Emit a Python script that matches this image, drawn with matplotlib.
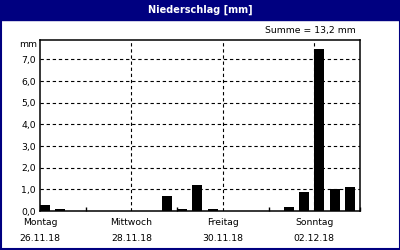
import matplotlib
matplotlib.use("Agg")
import matplotlib.pyplot as plt
from matplotlib.patches import Rectangle
import pandas as pd

# precipitation per 8-hour interval, starting Monday 26.11.18 00:00
start = "2018-11-26"
rain = [0.3, 0.1, 0.0, 0.0, 0.0, 0.0, 0.0, 0.0, 0.7, 0.1, 1.2,
        0.1, 0.0, 0.0, 0.0, 0.0, 0.2, 0.9, 7.5, 1.0, 1.1]
yticks = [0, 1, 2, 3, 4, 5, 6, 7]
days_de = ["Montag", "Dienstag", "Mittwoch", "Donnerstag", "Freitag", "Samstag", "Sonntag"]
title = "Niederschlag [mm]"
summe = "Summe = 13,2 mm"

times = pd.date_range(start, periods=len(rain), freq="8h")
navy = "#000080"

fig = plt.figure(figsize=(4, 2.5), dpi=100)
ax = fig.add_axes([40 / 400, 1 - 211 / 250, 320 / 400, 171 / 250])

ax.bar(times, rain, width=0.22, align="edge", color="black", zorder=3)

t0 = pd.Timestamp(start)
ax.set_xlim(t0, t0 + pd.Timedelta(days=7))
ax.set_ylim(0, 7.9)

ax.set_yticks(yticks)
ax.set_yticklabels([f"{v:.1f}".replace(".", ",") for v in yticks], fontsize=6.7)
ax.tick_params(axis="y", length=0, pad=3)

major = [t0 + pd.Timedelta(days=d) for d in (0, 2, 4, 6)]
minor = [t0 + pd.Timedelta(days=d) for d in (1, 3, 5, 7)]
ax.set_xticks(major)
ax.set_xticklabels([f"{days_de[t.weekday()]}\n{t:%d.%m.%y}" for t in major],
                   fontsize=6.7, linespacing=2.0)
ax.set_xticks(minor, minor=True)
ax.tick_params(axis="x", which="major", length=0, pad=5)
ax.tick_params(axis="x", which="minor", length=3, direction="in", width=1)

for y in yticks[1:]:
    ax.axhline(y, color="black", lw=0.8, ls=(0, (3, 2.5)), zorder=1)
for t in major[1:]:
    ax.axvline(t, color="black", lw=0.8, ls=(0, (3, 2.5)), zorder=1)

for s in ax.spines.values():
    s.set_linewidth(1.1)
    s.set_color("black")

fig.text(37 / 400, 1 - 45 / 250, "mm", ha="right", va="center", fontsize=6.7)
fig.text(356 / 400, 1 - 31 / 250, summe, ha="right", va="center", fontsize=6.7)

# title bar and frame
fig.patches.append(Rectangle((0, 1 - 20 / 250), 1, 20 / 250, transform=fig.transFigure,
                             color=navy, zorder=0))
fig.patches.append(Rectangle((0.5 / 400, 1 / 250), 399 / 400, 248 / 250, transform=fig.transFigure,
                             fill=False, edgecolor=navy, lw=1.5, zorder=0))
fig.text(0.5, 1 - 10 / 250, title, ha="center", va="center", color="white",
         fontsize=7, fontweight="bold")

fig.savefig("out.png", dpi=100)
